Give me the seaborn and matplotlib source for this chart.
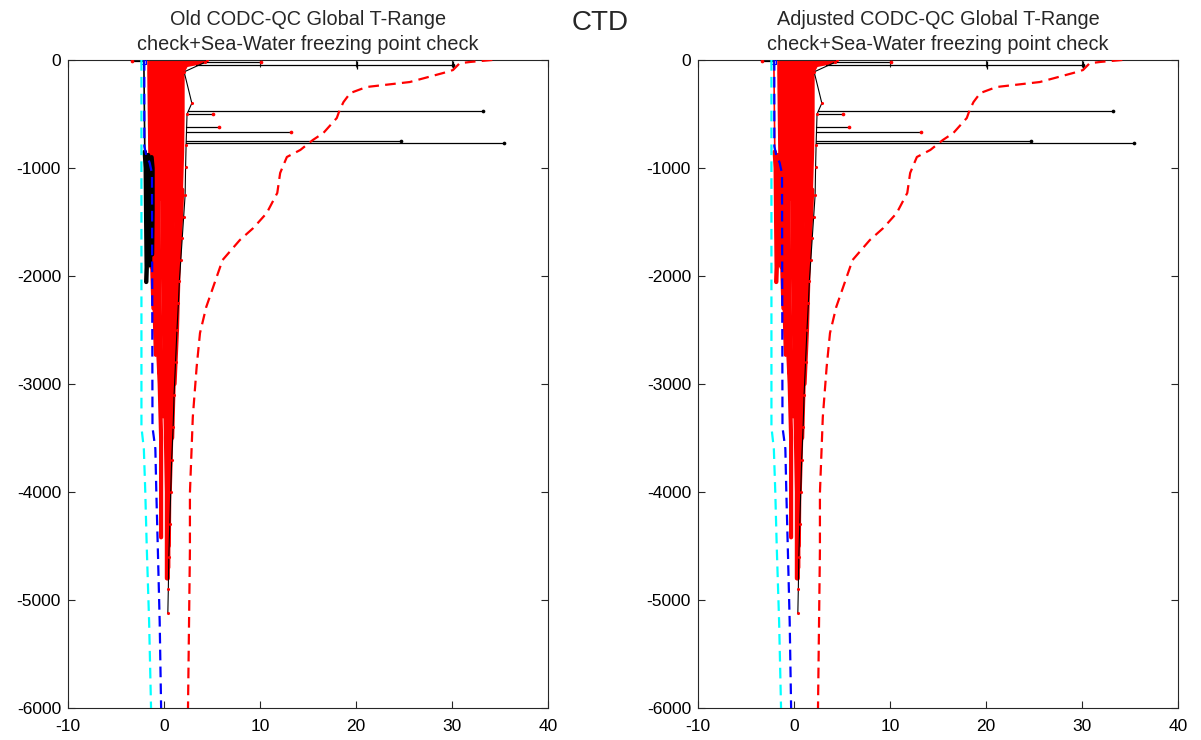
import matplotlib
matplotlib.use("Agg")
import matplotlib.pyplot as plt
import seaborn as sns

# ---------------- data ----------------
x_ticks = [-10, 0, 10, 20, 30, 40]
y_ticks = [-6000, -5000, -4000, -3000, -2000, -1000, 0]
titles = ["Old CODC-QC Global T-Range\ncheck+Sea-Water freezing point check",
          "Adjusted CODC-QC Global T-Range\ncheck+Sea-Water freezing point check"]
suptitle = "CTD"

# climatological range lines
cyan_depth = [0, -3400, -3600, -4000, -4500, -5200, -6000]
cyan_temp = [-2.35, -2.35, -2.1, -1.95, -1.8, -1.55, -1.35]
blue_depth = [0, -800, -880, -950, -1050, -3400, -3600, -4000, -4500, -5200, -6000]
blue_temp = [-2.05, -2.05, -1.85, -1.5, -1.25, -1.2, -0.9, -0.8, -0.65, -0.45, -0.3]
maxline_depth = [0, -18, -30, -93, -120, -204, -250, -306, -389, -463, -537, -676,
                 -741, -833, -898, -1046, -1231, -1417, -1556, -1667, -1852, -2287,
                 -2528, -2843, -3306, -4009, -4537, -6000]
maxline_temp = [34.2, 31.9, 30.8, 30.1, 29.1, 25.6, 21.1, 19.4, 18.7, 18.3, 18.0, 16.6,
                15.5, 14.2, 12.8, 12.1, 11.8, 10.7, 9.3, 7.9, 6.1, 4.4,
                3.75, 3.4, 3.0, 2.7, 2.7, 2.5]

# dense bundle of profiles (envelope of the upper part)
env_depth = [0, -25, -45, -60, -110, -500, -850, -1000, -1300]
env_left = [-1.8, -1.8, -1.8, -1.8, -1.8, -1.75, -1.7, -1.6, -1.5]
env_right = [4.6, 4.4, 3.3, 2.4, 2.1, 2.1, 2.05, 2.0, 1.9]

# individual deep profiles
streak_depths = [
    [-1200, -1600, -1920],
    [-1200, -1600, -2000, -2400, -2730],
    [-1200, -1600, -2000, -2500, -3000, -3500, -4000, -4420],
    [-1200, -1600, -2000, -2500, -3000, -3300],
    [-1200, -1600, -2000, -2500, -3000, -3500, -4000, -4500, -4800],
    [-1200, -1600, -2000, -2500, -3000, -3500, -4000, -4500, -4800],
    [-1200, -1600, -2000, -2500, -3000, -3500, -4000, -4500, -4700],
    [-1200, -1600, -2000, -2500, -3000, -3500, -4000, -4500],
    [-1200, -1600, -2000, -2500, -3000, -3500, -4000],
    [-1200, -1600, -2000, -2500, -3000, -3500],
    [-1200, -1600, -2000, -2500, -3000],
    [-1200, -1600, -2000, -2300],
    [-1200, -1600, -2000, -2500, -2900],
    [-1200, -1600, -2000, -2500, -3000, -3400],
    [-1200, -1600, -2000, -2500, -3000, -3600],
    [-1200, -1600, -2000, -2600],
]
streak_temps = [
    [-1.6, -1.4, -1.3],
    [-1.3, -1.15, -1.05, -0.95, -0.85],
    [-1.0, -0.9, -0.8, -0.7, -0.45, -0.3, -0.3, -0.3],
    [-0.6, -0.55, -0.5, -0.4, -0.2, -0.1],
    [-0.2, -0.15, -0.1, 0.0, 0.1, 0.2, 0.3, 0.3, 0.3],
    [0.2, 0.2, 0.25, 0.3, 0.35, 0.4, 0.4, 0.4, 0.4],
    [0.6, 0.55, 0.55, 0.55, 0.6, 0.55, 0.5, 0.45, 0.45],
    [1.0, 0.9, 0.85, 0.8, 0.75, 0.65, 0.55, 0.5],
    [1.35, 1.25, 1.1, 1.0, 0.9, 0.75, 0.6],
    [1.7, 1.5, 1.35, 1.2, 1.0, 0.85],
    [1.9, 1.7, 1.5, 1.35, 1.1],
    [-1.45, -1.3, -1.2, -1.1],
    [-0.8, -0.7, -0.65, -0.55, -0.5],
    [0.0, 0.05, 0.1, 0.15, 0.25, 0.3],
    [0.8, 0.75, 0.7, 0.65, 0.65, 0.6],
    [1.55, 1.4, 1.25, 1.1],
]

# profiles near the freezing point (flagged black in the old check)
cold_depths = [
    [-850, -1000, -1500, -1920, -2055],
    [-880, -1000, -1500, -1900],
    [-900, -1000, -1400, -1800],
]
cold_temps = [
    [-2.0, -1.9, -1.85, -1.8, -1.85],
    [-1.65, -1.55, -1.45, -1.45],
    [-1.3, -1.2, -1.2, -1.25],
]
cold_top_depth = [0, -850]
cold_top_temp = [-2.1, -2.0]

# profile along the warm edge of the bundle
edge_depth = [0, -20, -110, -400, -500, -790, -990, -1250, -1450, -1650, -1850, -2050,
              -2250, -2500, -2800, -3100, -3400, -3700, -4000, -4300, -4600, -4900, -5120]
edge_temp = [4.5, 4.3, 2.1, 2.9, 2.4, 2.3, 2.25, 2.2, 2.05, 1.9, 1.75, 1.6,
             1.5, 1.35, 1.2, 1.05, 0.95, 0.8, 0.7, 0.6, 0.5, 0.45, 0.4]

# spikes (outliers)
spike_depth = [-15, -45, -469, -500, -617, -664, -747, -766, -5]
spike_temp = [10.1, 30.1, 33.2, 5.1, 5.7, 13.2, 24.7, 35.4, -3.3]
spike_base = [4.4, 3.3, 2.5, 2.4, 2.3, 2.3, 2.3, 2.3, -2.1]
spike_end_red = [True, False, False, True, True, True, False, False, True]
tick_marks_temp = [20.1, 30.1]
tick_marks_depth = [-45, -45]

# ---------------- figure ----------------
sns.set_style("ticks")
plt.rcParams["font.family"] = ["Liberation Sans", "DejaVu Sans"]
plt.rcParams["axes.unicode_minus"] = False

W, H = 1201, 740
fig = plt.figure(figsize=(W / 100, H / 100), dpi=100)


def axes_at(x0, x1, y0, y1):
    return fig.add_axes([x0 / W, 1 - y1 / H, (x1 - x0) / W, (y1 - y0) / H])


def line(ax, t, d, color, lw, ls="-", z=2, **kw):
    sns.lineplot(x=t, y=d, sort=False, estimator=None, color=color, lw=lw,
                 linestyle=ls, ax=ax, zorder=z, **kw)


def draw_panel(ax, title, cold_color):
    # dense bundle
    ax.fill_betweenx(env_depth, env_left, env_right, color="red", lw=0, zorder=1)
    for d, t in zip(streak_depths, streak_temps):
        line(ax, t, d, "red", 3.0, z=1.5)
    # cold profiles
    line(ax, cold_top_temp, cold_top_depth, cold_color, 1.2, z=2)
    for d, t in zip(cold_depths, cold_temps):
        line(ax, t, d, cold_color, 3.2, z=2)
    # warm edge profile
    line(ax, edge_temp, edge_depth, "black", 0.8, z=3)
    sns.scatterplot(x=edge_temp, y=edge_depth, color="red", s=5, linewidth=0,
                    ax=ax, zorder=3.5)
    # spikes
    for base, t, d, red in zip(spike_base, spike_temp, spike_depth, spike_end_red):
        line(ax, [base, t], [d, d], "black", 0.9, z=3)
        sns.scatterplot(x=[t], y=[d], color="red" if red else "black", s=7,
                        linewidth=0, ax=ax, zorder=4)
    sns.scatterplot(x=tick_marks_temp, y=tick_marks_depth, marker="|", color="black",
                    s=30, linewidth=0.9, ax=ax, zorder=4)
    sns.scatterplot(x=[-2.1], y=[-15], marker="s", facecolor="none", edgecolor="blue",
                    s=12, linewidth=0.8, ax=ax, zorder=5)
    # range lines
    dash = (0, (4.8, 2.8))
    line(ax, cyan_temp, cyan_depth, "cyan", 1.6, ls=dash, z=6)
    line(ax, blue_temp, blue_depth, "blue", 1.6, ls=dash, z=6)
    line(ax, maxline_temp, maxline_depth, "red", 1.6, ls=dash, z=6)

    ax.set_xlim(-10, 40)
    ax.set_ylim(-6000, 0)
    ax.set_xticks(x_ticks)
    ax.set_yticks(y_ticks)
    ax.set_xlabel("")
    ax.set_ylabel("")
    ax.tick_params(direction="in", top=True, right=True, length=5, width=0.8,
                   color="0.15", labelsize=12.5, labelcolor="black")
    ax.tick_params(axis="x", pad=8)
    ax.tick_params(axis="y", pad=5)
    for s in ax.spines.values():
        s.set_color("0.15")
        s.set_linewidth(0.8)
        s.set_visible(True)
    ax.set_title(title, fontsize=14.3, pad=7, linespacing=1.4)


axL = axes_at(68, 548, 60, 708)
axR = axes_at(698, 1178, 60, 708)
draw_panel(axL, titles[0], "black")
draw_panel(axR, titles[1], "red")

fig.text(0.5, 1 - 23 / H, suptitle, ha="center", va="center", fontsize=20)

fig.savefig("out.png", dpi=100)
